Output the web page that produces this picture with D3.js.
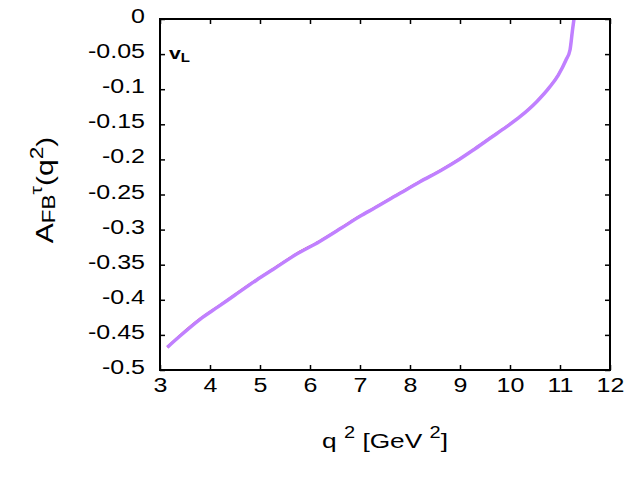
<!DOCTYPE html>
<html>
<head>
<meta charset="utf-8">
<script src="https://cdn.jsdelivr.net/npm/d3@7"></script>
<style>
  body { margin: 0; background: #fff; }
  text { font-family: "Liberation Sans", Arial, sans-serif; fill: #000; }
</style>
</head>
<body>
<svg id="scene" width="640" height="480"></svg>
<script>
// q^2 values and A_FB for the two curves (red underneath, purple on top)
const q2 = [3.146, 3.40, 3.80, 4.166, 4.50, 4.934, 5.266, 5.734, 6.186, 6.634, 7.0, 7.3, 7.8, 8.2,
            8.634, 8.966, 9.266, 9.6, 9.934, 10.2, 10.534, 10.8, 10.966, 11.12, 11.2, 11.25, 11.28];
const afbPurple = [-0.4677, -0.4516, -0.4278, -0.4098, -0.3932, -0.3718, -0.3565, -0.3348, -0.3172, -0.2975,
                   -0.2810, -0.2690, -0.2483, -0.2318, -0.2151, -0.2009, -0.1866, -0.1699, -0.1534, -0.1392,
                   -0.1178, -0.0964, -0.0798, -0.0584, -0.0442, -0.0157, 0.0];
const afbRed = [-0.4672, -0.4508, -0.4272, -0.4092, -0.3926, -0.3712, -0.3560, -0.3342, -0.3166, -0.2970,
                -0.2805, -0.2685, -0.2478, -0.2313, -0.2146, -0.2004, -0.1861, -0.1694, -0.1529, -0.1388,
                -0.1174, -0.0960, -0.0794, -0.0580, -0.0440, -0.0155, 0.0];
const xTicks = [3, 4, 5, 6, 7, 8, 9, 10, 11, 12];
const yTicks = [0, -0.05, -0.1, -0.15, -0.2, -0.25, -0.3, -0.35, -0.4, -0.45, -0.5];

const plotL = 160, plotR = 610, plotT = 19, plotB = 370;
const stretch = 1.25; // the reference font is drawn wide
let scaleX = d3.scaleLinear().domain([3, 12]).range([plotL, plotR]);
let scaleY = d3.scaleLinear().domain([-0.5, 0]).range([plotB, plotT]);

const svg = d3.select('#scene');

// curves
let line = d3.line()
  .x((d) => scaleX(d[0]))
  .y((d) => scaleY(d[1]))
  .curve(d3.curveMonotoneX);

svg.append('path')
  .datum(q2.map((q, i) => [q, afbRed[i]]))
  .attr('d', line)
  .attr('fill', 'none')
  .attr('stroke', '#ff0000')
  .attr('stroke-width', 2);

svg.append('path')
  .datum(q2.map((q, i) => [q, afbPurple[i]]))
  .attr('d', line)
  .attr('fill', 'none')
  .attr('stroke', '#c080ff')
  .attr('stroke-width', 3.5);

// axes: ticks point inward, mirrored on top and right
const fmt = (d) => (d === 0 ? '0' : String(d));

let xb = svg.append('g').attr('transform', `translate(0,${plotB})`)
  .call(d3.axisBottom(scaleX).tickValues(xTicks).tickSize(-5).tickPadding(0).tickFormat(d3.format('d')));
let xt = svg.append('g').attr('transform', `translate(0,${plotT})`)
  .call(d3.axisTop(scaleX).tickValues(xTicks).tickSize(-5).tickFormat(''));
let yl = svg.append('g').attr('transform', `translate(${plotL},0)`)
  .call(d3.axisLeft(scaleY).tickValues(yTicks).tickSize(-5).tickFormat(fmt));
let yr = svg.append('g').attr('transform', `translate(${plotR},0)`)
  .call(d3.axisRight(scaleY).tickValues(yTicks).tickSize(-5).tickFormat(''));

[xb, xt, yl, yr].forEach((g) => {
  g.select('.domain').remove();
  g.selectAll('.tick line').attr('stroke', '#000').attr('stroke-width', 1.5);
  g.selectAll('.tick text').attr('font-size', 20).attr('font-family', '"Liberation Sans", Arial, sans-serif');
});
xb.selectAll('.tick text')
  .attr('x', null).attr('y', null).attr('dy', null)
  .attr('transform', `translate(0,22) scale(${stretch},1)`);
yl.selectAll('.tick text')
  .attr('x', null).attr('dy', null)
  .attr('transform', `translate(-15,3.5) scale(${stretch},1)`);

svg.append('rect')
  .attr('x', plotL).attr('y', plotT)
  .attr('width', plotR - plotL).attr('height', plotB - plotT)
  .attr('fill', 'none').attr('stroke', '#000').attr('stroke-width', 2);

// labels
let xl = svg.append('text')
  .attr('transform', `translate(${(plotL + plotR) / 2},448) scale(${stretch},1)`)
  .attr('text-anchor', 'middle').attr('font-size', 21);
xl.append('tspan').text('q ');
xl.append('tspan').attr('dy', -10).attr('font-size', 16).text('2');
xl.append('tspan').attr('dy', 10).text(' [GeV ');
xl.append('tspan').attr('dy', -10).attr('font-size', 16).text('2');
xl.append('tspan').attr('dy', 10).text(']');

let ylab = svg.append('text')
  .attr('transform', `translate(53,190) rotate(-90) scale(${stretch},1)`)
  .attr('text-anchor', 'middle').attr('font-size', 24);
ylab.append('tspan').text('A');
ylab.append('tspan').attr('dy', 2).attr('font-size', 18).text('FB');
ylab.append('tspan').attr('dy', -13).attr('font-size', 17).text('τ');
ylab.append('tspan').attr('dy', 11).text('(q');
ylab.append('tspan').attr('dy', -10).attr('font-size', 18).text('2');
ylab.append('tspan').attr('dy', 10).text(')');

let nu = svg.append('text')
  .attr('transform', `translate(169,59) scale(${stretch},1)`)
  .attr('font-size', 17).attr('font-weight', 'bold');
nu.append('tspan').text('v');
nu.append('tspan').attr('dy', 3).attr('font-size', 12).text('L');
</script>
</body>
</html>
